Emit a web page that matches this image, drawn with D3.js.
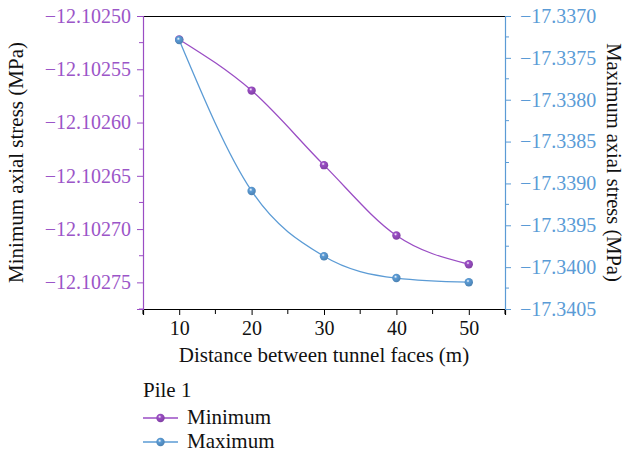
<!DOCTYPE html>
<html>
<head>
<meta charset="utf-8">
<script src="https://cdn.jsdelivr.net/npm/d3@7"></script>
<style>
  body { margin: 0; background: #fff; }
  svg text { font-family: "Liberation Serif", "DejaVu Serif", serif; }
</style>
</head>
<body>
<div id="chart"></div>
<script>
// Data
const distances = [10, 20, 30, 40, 50];
const minStress = [-12.102522, -12.10257, -12.10264, -12.102706, -12.102733];
const maxStress = [-17.337287, -17.33909, -17.33987, -17.34013, -17.34018];
const xTicks = [10, 20, 30, 40, 50];
const leftTicks = [-12.1025, -12.10255, -12.1026, -12.10265, -12.1027, -12.10275];
const rightTicks = [-17.337, -17.3375, -17.338, -17.3385, -17.339, -17.3395, -17.34, -17.3405];

const width = 628, height = 453;
const plotLeft = 143, plotRight = 505, plotTop = 16, plotBottom = 309;
const purple = "#9a4dc4", blue = "#5b9bd5";
const purpleText = "#9b55c8", blueText = "#5a9bd6";

const svg = d3.select("#chart").append("svg")
    .attr("width", width)
    .attr("height", height);

const defs = svg.append("defs");
function ball(id, c) {
    const g = defs.append("radialGradient").attr("id", id)
        .attr("cx", "40%").attr("cy", "35%").attr("r", "65%");
    g.append("stop").attr("offset", "0%").attr("stop-color", "#ffffff");
    g.append("stop").attr("offset", "30%").attr("stop-color", c);
    g.append("stop").attr("offset", "100%").attr("stop-color", d3.color(c).darker(0.5));
}
ball("ballP", purple);
ball("ballB", blue);

const x = d3.scaleLinear().domain([5, 55]).range([plotLeft, plotRight]);
const yL = d3.scaleLinear().domain([-12.102775, -12.1025]).range([plotBottom, plotTop]);
const yR = d3.scaleLinear().domain([-17.3405, -17.337]).range([plotBottom, plotTop]);

// top frame line
svg.append("line")
    .attr("x1", plotLeft).attr("x2", plotRight)
    .attr("y1", plotTop + 0.5).attr("y2", plotTop + 0.5)
    .attr("stroke", "#000").attr("stroke-width", 1.2);

// x axis
const xAxis = svg.append("g")
    .attr("transform", `translate(0,${plotBottom})`)
    .call(d3.axisBottom(x).tickValues(xTicks).tickSize(6).tickPadding(6).tickFormat(d3.format("d")));
xAxis.select(".domain").attr("stroke", "#000").attr("stroke-width", 1.2);
xAxis.selectAll("text").attr("font-size", 20).attr("fill", "#111")
    .attr("font-family", "Liberation Serif, serif");
svg.append("g")
    .attr("transform", `translate(0,${plotBottom})`)
    .selectAll("line")
    .data([5, 15, 25, 35, 45, 55])
    .join("line")
    .attr("x1", d => x(d)).attr("x2", d => x(d))
    .attr("y1", 0).attr("y2", 5)
    .attr("stroke", "#000");

// left axis
const yAxisL = svg.append("g")
    .attr("transform", `translate(${plotLeft},0)`)
    .call(d3.axisLeft(yL).tickValues(leftTicks).tickSize(6).tickPadding(6)
        .tickFormat(d => "\u2212" + Math.abs(d).toFixed(5)));
yAxisL.select(".domain").attr("stroke", purple).attr("stroke-width", 1.2);
yAxisL.selectAll(".tick line").attr("stroke", purple);
yAxisL.selectAll("text").attr("font-size", 20).attr("fill", purpleText)
    .attr("font-family", "Liberation Serif, serif");
svg.append("g")
    .attr("transform", `translate(${plotLeft},0)`)
    .selectAll("line")
    .data(leftTicks.map(d => d - 0.000025))
    .join("line")
    .attr("x1", -4).attr("x2", 0)
    .attr("y1", d => yL(d)).attr("y2", d => yL(d))
    .attr("stroke", purple);

// right axis
const yAxisR = svg.append("g")
    .attr("transform", `translate(${plotRight},0)`)
    .call(d3.axisRight(yR).tickValues(rightTicks).tickSize(6).tickPadding(9)
        .tickFormat(d => "\u2212" + Math.abs(d).toFixed(4)));
yAxisR.select(".domain").attr("stroke", blue).attr("stroke-width", 1.2);
yAxisR.selectAll(".tick line").attr("stroke", blue);
yAxisR.selectAll("text").attr("font-size", 20).attr("fill", blueText)
    .attr("font-family", "Liberation Serif, serif");
svg.append("g")
    .attr("transform", `translate(${plotRight},0)`)
    .selectAll("line")
    .data(rightTicks.slice(1).map(d => d + 0.00025))
    .join("line")
    .attr("x1", 0).attr("x2", 4)
    .attr("y1", d => yR(d)).attr("y2", d => yR(d))
    .attr("stroke", blue);

// axis titles
svg.append("text")
    .attr("transform", `translate(23,${(plotTop + plotBottom) / 2}) rotate(-90)`)
    .attr("text-anchor", "middle")
    .attr("font-size", 21)
    .attr("fill", "#111")
    .text("Minimum axial stress (MPa)");
svg.append("text")
    .attr("transform", `translate(607,${(plotTop + plotBottom) / 2}) rotate(90)`)
    .attr("text-anchor", "middle")
    .attr("font-size", 20.5)
    .attr("fill", "#111")
    .text("Maximum axial stress (MPa)");
svg.append("text")
    .attr("x", (plotLeft + plotRight) / 2).attr("y", 362)
    .attr("text-anchor", "middle")
    .attr("font-size", 21)
    .attr("fill", "#111")
    .text("Distance between tunnel faces (m)");

// series
const series = [
    { name: "Minimum", values: minStress, y: yL, color: purple, ball: "url(#ballP)" },
    { name: "Maximum", values: maxStress, y: yR, color: blue, ball: "url(#ballB)" }
];

series.forEach(s => {
    const pts = distances.map((d, i) => [d, s.values[i]]);
    const line = d3.line()
        .x(d => x(d[0]))
        .y(d => s.y(d[1]))
        .curve(d3.curveMonotoneX);
    svg.append("path")
        .datum(pts)
        .attr("d", line)
        .attr("fill", "none")
        .attr("stroke", s.color)
        .attr("stroke-width", 1.3);
});
series.forEach(s => {
    svg.append("g").selectAll("circle")
        .data(distances.map((d, i) => [d, s.values[i]]))
        .join("circle")
        .attr("cx", d => x(d[0]))
        .attr("cy", d => s.y(d[1]))
        .attr("r", 4.2)
        .attr("fill", s.ball);
});

// legend
const legend = svg.append("g").attr("transform", "translate(143,0)");
legend.append("text")
    .attr("x", 0).attr("y", 397)
    .attr("font-size", 21).attr("fill", "#111")
    .text("Pile 1");
series.forEach((s, i) => {
    const yy = 418 + i * 24;
    legend.append("line")
        .attr("x1", 0).attr("x2", 35)
        .attr("y1", yy).attr("y2", yy)
        .attr("stroke", s.color).attr("stroke-width", 1.3);
    legend.append("circle")
        .attr("cx", 17.5).attr("cy", yy).attr("r", 4.2)
        .attr("fill", s.ball);
    legend.append("text")
        .attr("x", 44).attr("y", yy + 6)
        .attr("font-size", 21).attr("fill", "#111")
        .text(s.name);
});
</script>
</body>
</html>
